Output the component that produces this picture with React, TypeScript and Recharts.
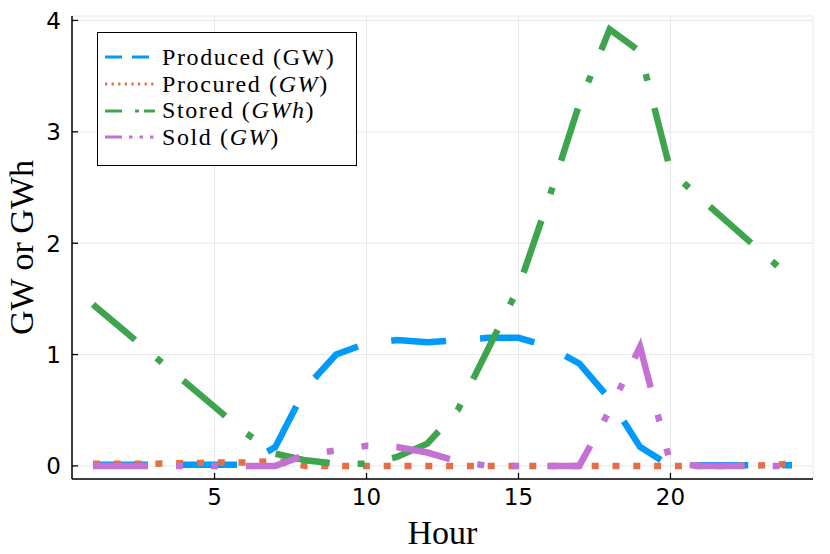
import { CartesianGrid, Line, LineChart, XAxis, YAxis } from "recharts";

const hours = [1, 2, 3, 4, 5, 6, 7, 8, 9, 10, 11, 12, 13, 14, 15, 16, 17, 18, 19, 20, 21, 22, 23, 24];
const produced = [0.01, 0.01, 0.01, 0.01, 0.01, 0.01, 0.17, 0.7, 1.0, 1.1, 1.13, 1.11, 1.13, 1.15, 1.15, 1.07, 0.92, 0.6, 0.17, 0.0, 0.005, 0.005, 0.005, 0.005];
const procured = [0.02, 0.02, 0.02, 0.025, 0.03, 0.03, 0.045, 0, 0, 0, 0, 0, 0, 0, 0, 0, 0, 0, 0, 0, 0, 0, 0.005, 0.02];
const stored = [1.45, 1.22, 0.99, 0.76, 0.53, 0.3, 0.11, 0.05, 0.02, 0.02, 0.08, 0.2, 0.5, 1.05, 1.6, 2.4, 3.25, 3.92, 3.72, 2.65, 2.4, 2.16, 1.92, 1.68];
const sold = [0, 0, 0, 0, 0, 0, 0, 0.1, 0.14, 0.18, 0.17, 0.12, 0.04, 0, 0, 0, 0, 0.5, 1.07, 0.02, 0, 0, 0, 0];

const xTicks = [5, 10, 15, 20];
const yTicks = [0, 1, 2, 3, 4];

const series = [
  { key: "produced", name: "Produced", unit: "GW", italic: false, color: "#009AFA", dash: "55 34", legendDash: "17 10" },
  { key: "procured", name: "Procured", unit: "GW", italic: true, color: "#E36F47", dash: "7 13.8", legendDash: "2.2 4.4" },
  { key: "stored", name: "Stored", unit: "GWh", italic: true, color: "#3EA44E", dash: "55 28 7 28", legendDash: "17 13 4 5" },
  { key: "sold", name: "Sold", unit: "GW", italic: true, color: "#C371D2", dash: "55 28 7 28 7 28", legendDash: "17 7 3.5 7 3.5 7 3.5 20" },
];

const data = hours.map((hour, i) => ({
  hour,
  produced: produced[i],
  procured: procured[i],
  stored: stored[i],
  sold: sold[i],
}));

const tickFont = "DejaVu Sans";
const mathFont = "Liberation Serif";

function XTick(props: any) {
  const { x, y, payload } = props;
  return (
    <g>
      <line x1={x} x2={x} y1={y} y2={y - 6} stroke="#000" strokeWidth={1.3} />
      <text x={x} y={y + 26} textAnchor="middle" fontFamily={tickFont} fontSize={23} fill="#000">
        {payload.value}
      </text>
    </g>
  );
}

function YTick(props: any) {
  const { x, y, payload } = props;
  return (
    <g>
      <line x1={x} x2={x + 6} y1={y} y2={y} stroke="#000" strokeWidth={1.3} />
      <text x={x - 11} y={y + 8.5} textAnchor="end" fontFamily={tickFont} fontSize={23} fill="#000">
        {payload.value}
      </text>
    </g>
  );
}

function YLabel(props: any) {
  const vb = props.viewBox || {};
  const cy = (vb.y ?? 16) + (vb.height ?? 463) / 2;
  return (
    <text
      transform={`translate(33, ${cy}) rotate(-90)`}
      textAnchor="middle"
      fontFamily={mathFont}
      fontSize={34}
      fill="#000"
    >
      GW or GWh
    </text>
  );
}

function LegendBox() {
  return (
    <div
      style={{
        position: "absolute",
        left: 97,
        top: 32,
        width: 260,
        height: 134,
        boxSizing: "border-box",
        border: "1.5px solid #000",
        background: "#fff",
        padding: "11px 0 0 7px",
      }}
    >
      {series.map((s) => (
        <div key={s.key} style={{ display: "flex", alignItems: "center", height: 26.7 }}>
          <svg width={50} height={10} style={{ marginRight: 7, flex: "none" }}>
            <line x1={0} x2={50} y1={5} y2={5} stroke={s.color} strokeWidth={3} strokeDasharray={s.legendDash} />
          </svg>
          <span style={{ fontFamily: mathFont, fontSize: 24, lineHeight: "26.7px", whiteSpace: "nowrap", letterSpacing: 1.6 }}>
            {s.name} (<span style={{ fontStyle: s.italic ? "italic" : "normal" }}>{s.unit}</span>)
          </span>
        </div>
      ))}
    </div>
  );
}

export default function App() {
  return (
    <div style={{ position: "absolute", left: 0, top: 0, width: 830, height: 554, background: "#fff" }}>
      <LineChart width={830} height={554} data={data} margin={{ top: 16, right: 17, bottom: 0, left: 0 }}>
        <CartesianGrid stroke="#e9e9e9" strokeWidth={1} />
        <XAxis
          dataKey="hour"
          type="number"
          domain={[0.31, 24.69]}
          ticks={xTicks}
          allowDataOverflow
          height={75}
          tickSize={0}
          tickMargin={0}
          tickLine={false}
          tick={<XTick />}
          axisLine={{ stroke: "#000", strokeWidth: 1.5 }}
          label={{
            value: "Hour",
            position: "insideBottom",
            offset: 10,
            style: { fontFamily: mathFont, fontSize: 34, fill: "#000" },
          }}
        />
        <YAxis
          type="number"
          domain={[-0.1176, 4.04]}
          ticks={yTicks}
          allowDataOverflow
          width={72}
          tickSize={0}
          tickMargin={0}
          tickLine={false}
          tick={<YTick />}
          axisLine={{ stroke: "#000", strokeWidth: 1.5 }}
          label={<YLabel />}
        />
        {series.map((s) => (
          <Line
            key={s.key}
            dataKey={s.key}
            type="linear"
            stroke={s.color}
            strokeWidth={6.5}
            strokeDasharray={s.dash}
            strokeLinecap="butt"
            dot={false}
            activeDot={false}
            isAnimationActive={false}
          />
        ))}
      </LineChart>
      <LegendBox />
    </div>
  );
}
